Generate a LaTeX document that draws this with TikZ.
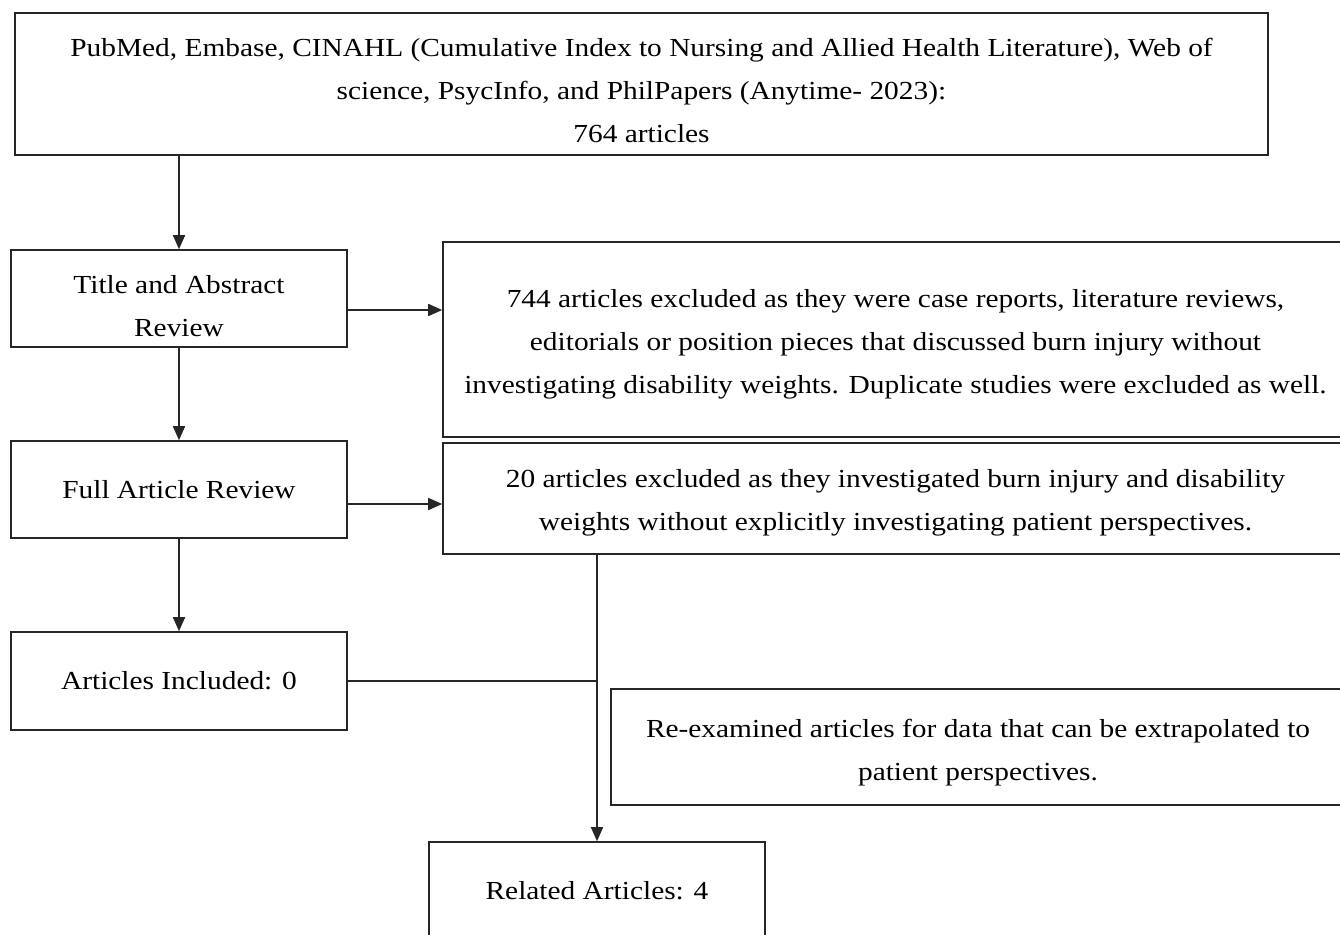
\documentclass[tikz,border=0pt]{standalone}
\usepackage{fontspec}
\setmainfont{Liberation Serif}[FakeStretch=1.13]
\usetikzlibrary{arrows.meta,calc}
\newcommand{\upstrut}[1]{\rule{0pt}{#1}}
\begin{document}
\begin{tikzpicture}[x=1pt,y=-1pt,
  box/.style={draw=black!85, line width=1.6pt, rectangle, align=center, inner sep=0pt, font=\fontsize{26}{43}\selectfont},
  conn/.style={draw=black!85, line width=1.6pt},
  arr/.style={conn, -{Triangle[length=14pt,width=12pt]}}]
\useasboundingbox (0,0) rectangle (1340,934);
\clip (0,0) rectangle (1340,934);
\fill[white] (0,0) rectangle (1340,934);
\node[box, minimum width=1253pt, minimum height=142pt] (top) at (641.5,84)
  {\upstrut{32pt}PubMed, Embase, CINAHL (Cumulative Index to Nursing and Allied Health Literature), Web of\\
   science, PsycInfo, and PhilPapers (Anytime- 2023):\\ 764 articles};
\node[box, minimum width=336pt, minimum height=97pt] (title) at (179,298.5)
  {\upstrut{34pt}Title and Abstract\\ Review};
\node[box, minimum width=905pt, minimum height=195pt] (ex1) at (895.5,339.5)
  {\upstrut{28pt}744 articles excluded as they were case reports, literature reviews,\\
   editorials or position pieces that discussed burn injury without\\
   investigating disability weights. Duplicate studies were excluded as well.};
\node[box, minimum width=336pt, minimum height=97pt] (full) at (179,489.5)
  {Full Article Review};
\node[box, minimum width=905pt, minimum height=111pt] (ex2) at (895.5,498.5)
  {\upstrut{27pt}20 articles excluded as they investigated burn injury and disability\\
   weights without explicitly investigating patient perspectives.};
\node[box, minimum width=336pt, minimum height=98pt] (inc) at (179,681)
  {Articles Included: 0};
\node[box, minimum width=734pt, minimum height=116pt] (reex) at (978,747)
  {\upstrut{30pt}Re-examined articles for data that can be extrapolated to\\ patient perspectives.};
\node[box, minimum width=336pt, minimum height=98pt] (rel) at (597,891)
  {Related Articles: 4};
\coordinate (r1) at (0,310);
\coordinate (r2) at (0,504);
\draw[arr] (title.north |- top.south) -- (title.north);
\draw[arr] (title.south) -- (full.north);
\draw[arr] (full.south) -- (inc.north);
\draw[arr] (title.east |- r1) -- (ex1.west |- r1);
\draw[arr] (full.east |- r2) -- (ex2.west |- r2);
\draw[arr] (ex2.south -| rel.north) -- (rel.north);
\draw[conn] (inc.east) -- (inc.east -| rel.north);
\end{tikzpicture}
\end{document}
